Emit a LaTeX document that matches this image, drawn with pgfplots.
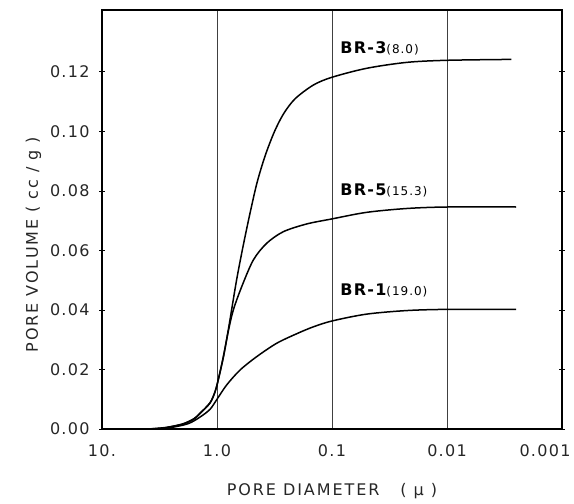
\documentclass[border=0pt]{standalone}
\usepackage{pgfplots}
\pgfplotsset{compat=1.18}
\usepackage{fontspec}
\setmainfont{DejaVu Sans}[LetterSpace=8]

\begin{document}
\begin{tikzpicture}
\begin{axis}[name=ax,scale only axis,width=460pt,height=419pt,
  xmode=log,x dir=reverse,xmin=0.001,xmax=10,ymin=0,ymax=0.1408,
  xtick={0.001,0.01,0.1,1,10},
  xticklabels={\makebox[0pt]{\hspace*{-34pt}0.001},0.01,0.1,1.0,10.},
  xminorticks=false,x tick style={draw=none},
  ytick={0,0.02,0.04,0.06,0.08,0.10,0.12},
  yticklabels={0.00,0.02,0.04,0.06,0.08,0.10,0.12},
  y tick style={black,line width=0.8pt},tick align=center,major tick length=6pt,
  xmajorgrids,grid style={black!75,line width=0.7pt},
  axis line style={line width=1.3pt},
  /pgf/number format/assume math mode=true,
  tick label style={font=\fontsize{16}{18}\selectfont,black!85},
  xticklabel style={yshift=-9pt},
  yticklabel style={xshift=-6pt},
  xlabel={PORE DIAMETER \ \ (\ \textmu\ )},
  ylabel={PORE VOLUME ( cc / g )},
  label style={font=\fontsize{16}{18}\selectfont\addfontfeature{LetterSpace=12},black!85},
  xlabel style={yshift=-20pt},
  ylabel style={at={(ticklabel cs:0.44)},yshift=2pt}]
% BR-3
\addplot[smooth,line width=1.5pt,black] coordinates {(3.981,0.0000)(2.818,0.0004)(1.995,0.0016)(1.585,0.0033)(1.406,0.0052)(1.151,0.0087)(1.040,0.0125)(0.977,0.0165)(0.881,0.0243)(0.798,0.0333)(0.676,0.0500)(0.589,0.0620)(0.513,0.0730)(0.447,0.0830)(0.380,0.0920)(0.316,0.1000)(0.263,0.1060)(0.209,0.1110)(0.145,0.1156)(0.1,0.1182)(0.0501,0.1212)(0.0224,0.1232)(0.01,0.1239)(0.00275,0.1242)};
% BR-5
\addplot[smooth,line width=1.5pt,black] coordinates {(3.981,0.0000)(2.818,0.0005)(1.995,0.0017)(1.585,0.0035)(1.406,0.0053)(1.151,0.0088)(1.040,0.0125)(0.977,0.0163)(0.881,0.0240)(0.798,0.0328)(0.721,0.0400)(0.610,0.0478)(0.483,0.0568)(0.370,0.0624)(0.265,0.0663)(0.166,0.0689)(0.1,0.0706)(0.0501,0.0728)(0.0224,0.0741)(0.01,0.0746)(0.00251,0.0746)};
% BR-1
\addplot[smooth,line width=1.5pt,black] coordinates {(3.548,0.0000)(2.512,0.0005)(1.778,0.0018)(1.406,0.0040)(1.151,0.0066)(1.0,0.0100)(0.824,0.0148)(0.631,0.0198)(0.452,0.0243)(0.303,0.0288)(0.203,0.0320)(0.146,0.0343)(0.1,0.0363)(0.0501,0.0386)(0.0224,0.0398)(0.01,0.0402)(0.00251,0.0402)};
\node[anchor=west,inner sep=0pt] at (axis cs:0.085,0.128) {\fontsize{16}{18}\selectfont\bfseries BR-3{\fontsize{12}{14}\mdseries\selectfont(8.0)}};
\node[anchor=west,inner sep=0pt] at (axis cs:0.085,0.0803) {\fontsize{16}{18}\selectfont\bfseries BR-5{\fontsize{12}{14}\mdseries\selectfont(15.3)}};
\node[anchor=west,inner sep=0pt] at (axis cs:0.085,0.0464) {\fontsize{16}{18}\selectfont\bfseries BR-1{\fontsize{12}{14}\mdseries\selectfont(19.0)}};
\end{axis}
\pgfresetboundingbox
\path[use as bounding box] ([xshift=-102pt,yshift=-75pt]ax.south west) rectangle ([xshift=12pt,yshift=10pt]ax.north east);
\end{tikzpicture}
\end{document}
